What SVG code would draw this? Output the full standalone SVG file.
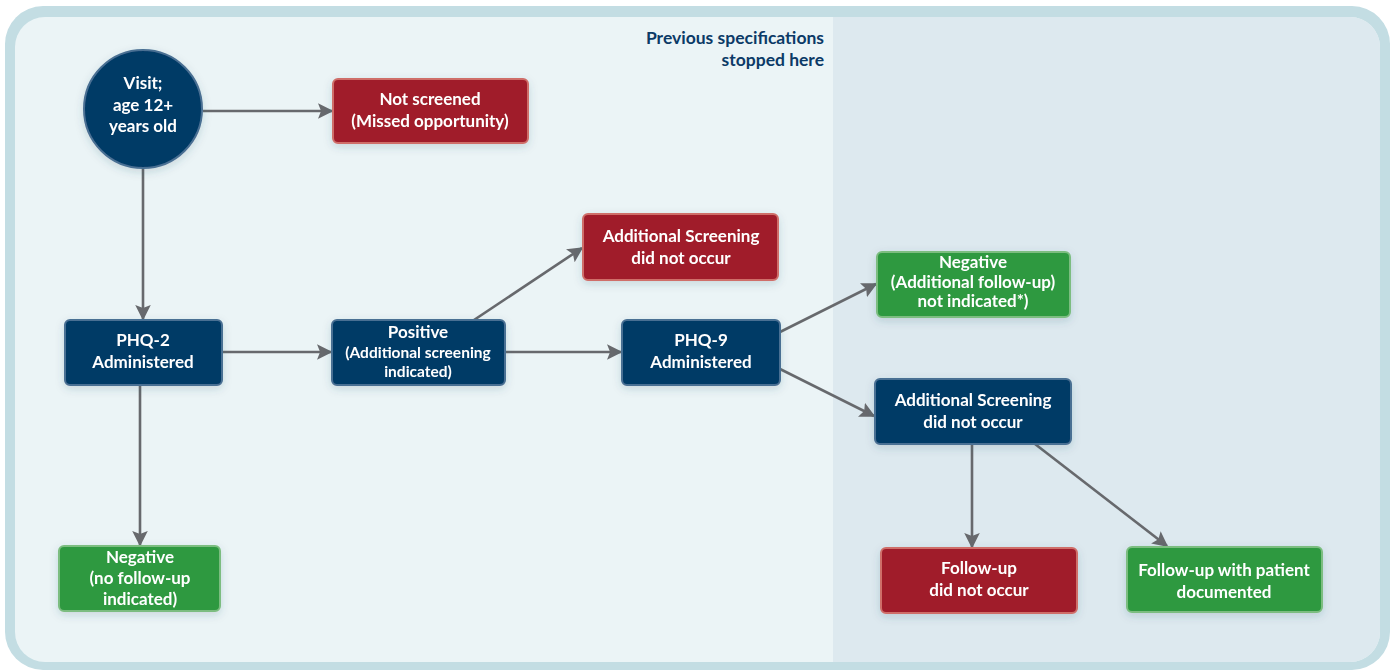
<svg xmlns="http://www.w3.org/2000/svg" width="1395" height="672" viewBox="0 0 1395 672">
<style>
.t{font-family:Lato,"Open Sans","Liberation Sans",sans-serif;font-weight:700;fill:#ffffff;text-anchor:middle;font-size:17px}
.s{font-size:15.5px}
.navy{fill:#033a66;stroke:#4a6f93;stroke-width:2}
.red{fill:#a01f2a;stroke:#cf6e69;stroke-width:2}
.green{fill:#2f9940;stroke:#7cbd80;stroke-width:2}
.c{stroke:#67696d;stroke-width:2.6;fill:none;marker-end:url(#ah)}
.note{font-family:Lato,"Liberation Sans",sans-serif;font-weight:700;fill:#0b3a67;font-size:17.5px;text-anchor:end}
</style>
<defs>
<marker id="ah" viewBox="0 0 10 10" refX="9" refY="5" markerWidth="6" markerHeight="6" markerUnits="strokeWidth" orient="auto">
<path d="M0,0 L10,5 L0,10 L2,5 z" fill="#67696d"/>
</marker>
<filter id="sh" x="-20%" y="-20%" width="140%" height="150%">
<feDropShadow dx="0" dy="3" stdDeviation="4" flood-color="#335566" flood-opacity="0.18"/>
</filter>
<clipPath id="panel"><rect x="15" y="17" width="1365" height="645" rx="30"/></clipPath>
</defs>
<rect width="1395" height="672" fill="#ffffff"/>
<rect x="5" y="6" width="1385" height="664" rx="38" fill="#c3dde3"/>
<g clip-path="url(#panel)">
<rect x="15" y="17" width="1365" height="645" fill="#ebf4f6"/>
<rect x="833" y="17" width="547" height="645" fill="#dde9ef"/>
</g>
<text class="note" x="824" y="44">Previous specifications</text>
<text class="note" x="824" y="66">stopped here</text>
<g id="connectors">
<line class="c" x1="203" y1="111" x2="332" y2="111"/>
<line class="c" x1="143" y1="169" x2="143" y2="319"/>
<line class="c" x1="222" y1="352" x2="331" y2="352"/>
<line class="c" x1="140" y1="385" x2="140" y2="545"/>
<line class="c" x1="474" y1="320" x2="582" y2="248"/>
<line class="c" x1="505" y1="352" x2="621" y2="352"/>
<line class="c" x1="780" y1="332" x2="876" y2="284"/>
<line class="c" x1="780" y1="369" x2="874" y2="416"/>
<line class="c" x1="972" y1="444" x2="972" y2="547"/>
<line class="c" x1="1035" y1="444" x2="1167" y2="546"/>
</g>
<g id="visit" filter="url(#sh)">
<circle class="navy" cx="143" cy="109" r="59"/>
<text class="t" x="143" y="89">Visit;</text>
<text class="t" x="143" y="111">age 12+</text>
<text class="t" x="143" y="132">years old</text>
</g>
<g id="not-screened" filter="url(#sh)">
<rect class="red" x="333" y="79" width="195" height="64" rx="5"/>
<text class="t" x="430" y="105">Not screened</text>
<text class="t" x="430" y="127">(Missed opportunity)</text>
</g>
<g id="phq2" filter="url(#sh)">
<rect class="navy" x="65" y="320" width="157" height="65" rx="5"/>
<text class="t" x="143" y="346">PHQ-2</text>
<text class="t" x="143" y="368">Administered</text>
</g>
<g id="positive" filter="url(#sh)">
<rect class="navy" x="332" y="320" width="173" height="65" rx="5"/>
<text class="t" x="418" y="338">Positive</text>
<text class="t s" x="418" y="358">(Additional screening</text>
<text class="t s" x="418" y="377">indicated)</text>
</g>
<g id="add-screen-red" filter="url(#sh)">
<rect class="red" x="583" y="214" width="195" height="66" rx="5"/>
<text class="t" x="681" y="242">Additional Screening</text>
<text class="t" x="681" y="264">did not occur</text>
</g>
<g id="phq9" filter="url(#sh)">
<rect class="navy" x="622" y="320" width="158" height="65" rx="5"/>
<text class="t" x="701" y="346">PHQ-9</text>
<text class="t" x="701" y="368">Administered</text>
</g>
<g id="negative-top" filter="url(#sh)">
<rect class="green" x="877" y="252" width="193" height="65" rx="5"/>
<text class="t" x="973" y="268">Negative</text>
<text class="t" x="973" y="288">(Additional follow-up)</text>
<text class="t" x="973" y="307">not indicated*)</text>
</g>
<g id="add-screen-navy" filter="url(#sh)">
<rect class="navy" x="875" y="379" width="196" height="65" rx="5"/>
<text class="t" x="973" y="406">Additional Screening</text>
<text class="t" x="973" y="428">did not occur</text>
</g>
<g id="negative-bottom" filter="url(#sh)">
<rect class="green" x="59" y="546" width="161" height="65" rx="5"/>
<text class="t" x="140" y="563">Negative</text>
<text class="t" x="140" y="584">(no follow-up</text>
<text class="t" x="140" y="605">indicated)</text>
</g>
<g id="followup-red" filter="url(#sh)">
<rect class="red" x="881" y="548" width="196" height="65" rx="5"/>
<text class="t" x="979" y="574">Follow-up</text>
<text class="t" x="979" y="596">did not occur</text>
</g>
<g id="followup-green" filter="url(#sh)">
<rect class="green" x="1127" y="547" width="195" height="65" rx="5"/>
<text class="t" x="1224" y="576">Follow-up with patient</text>
<text class="t" x="1224" y="598">documented</text>
</g>
</svg>
